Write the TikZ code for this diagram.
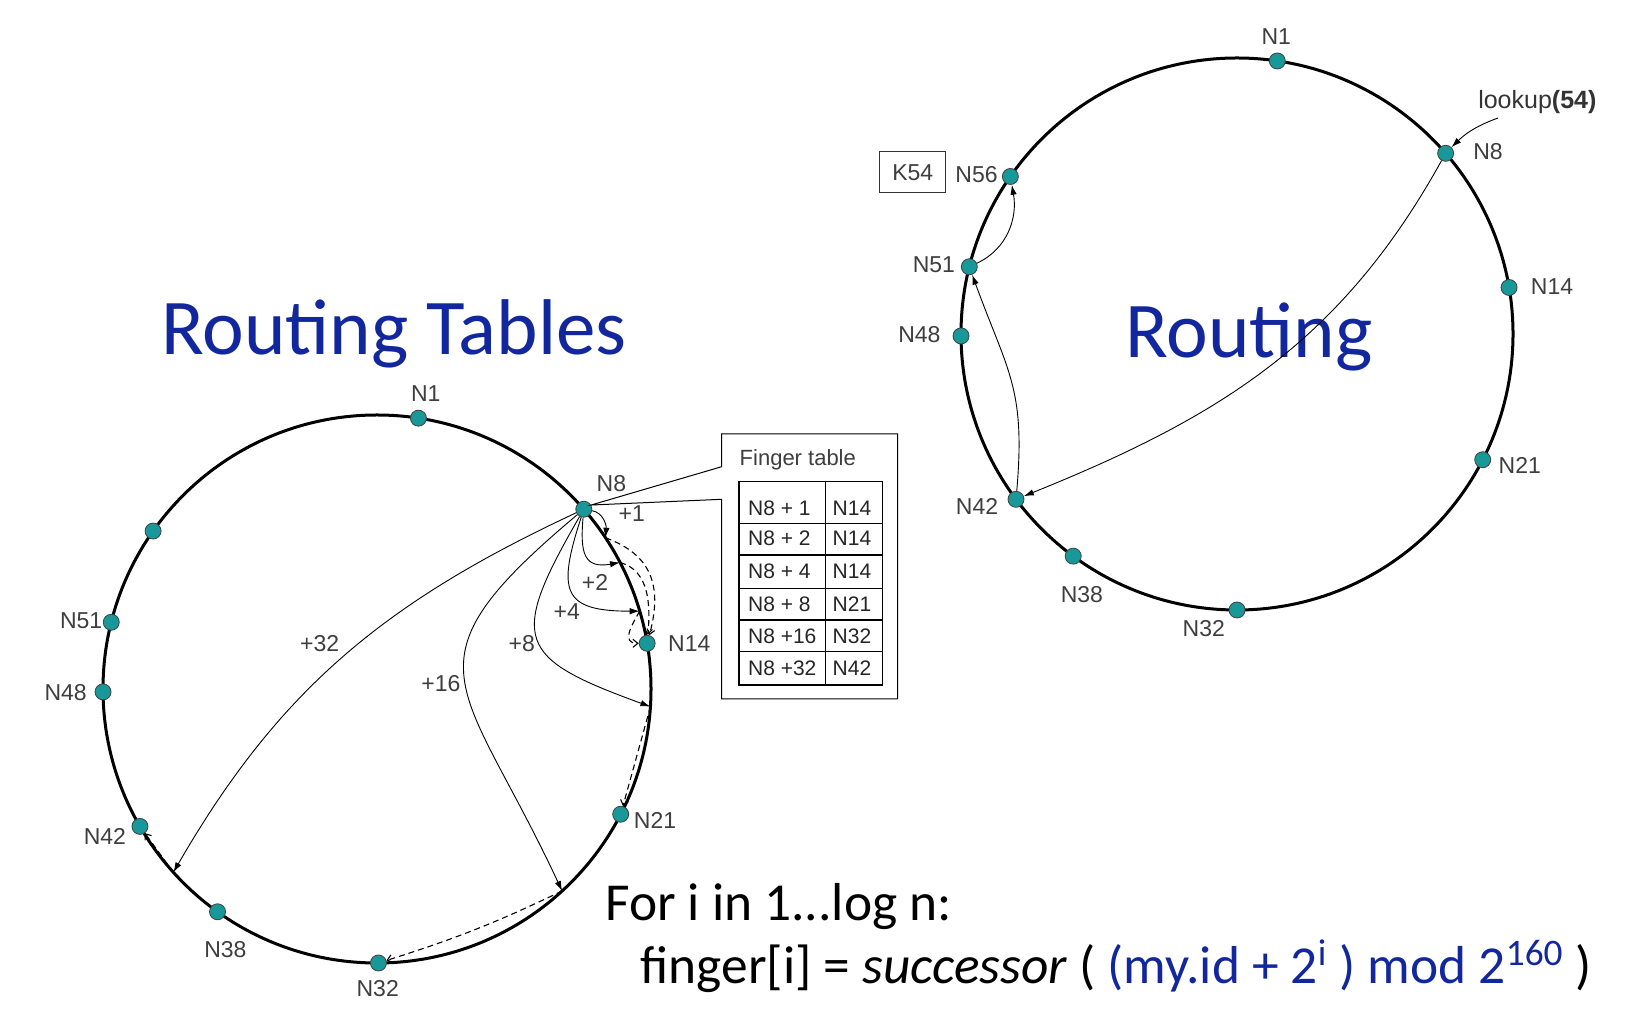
\documentclass[tikz,border=0pt]{standalone}
\usepackage{fontspec}
\setmainfont{Carlito}
\newfontfamily\labfont{Liberation Sans}
\usetikzlibrary{arrows.meta}
\usetikzlibrary{calc}

\definecolor{ringteal}{RGB}{24,152,152}
\definecolor{slideblue}{RGB}{18,38,158}
\definecolor{labgray}{RGB}{62,62,62}

\tikzset{
    peer/.style = {circle, fill=ringteal, draw=black!75, line width=0.4pt, inner sep=0pt, minimum size=8pt},
    lab/.style = {font=\labfont\fontsize{11.5}{12}\selectfont, text=labgray, inner sep=0pt},
    cell/.style = {font=\labfont\fontsize{10.5}{11}\selectfont, text=black!85, inner sep=0pt, anchor=west},
    finger/.style = {line width=0.45pt, -{Latex[length=5pt,width=3.2pt]}},
    hop/.style = {line width=0.55pt, dash pattern=on 3pt off 2pt, -{Straight Barb[length=2.5pt,width=4pt]}},
    ring/.style = {line width=1.5pt},
    heading/.style = {font=\fontsize{39.5}{40}\selectfont, text=slideblue, anchor=base, inner sep=0pt}
}

\begin{document}
\begin{tikzpicture}[x=0.5pt, y=0.5pt]
            \useasboundingbox (0,0) rectangle (1632,1028);
            \fill[white] (0,0) rectangle (1632,1028);

            \node[heading] (ttab) at (394,673) {Routing Tables};
            \node[heading] (trout) at (1249,670) {Routing};

            % left ring
            \coordinate (lc) at (377,339);
            \draw[ring] (lc) circle (274);
            \foreach \id/\ang in {1/81.3, 8/41, 14/9.6, 21/-27.2, 32/-89.7, 38/-125.6, 42/-149.9, 48/180.6, 51/165.9, 56/144.8}
                \node[peer] (l\id) at ($(lc)+(\ang:274)$) {};
            \node[lab] (ll1) at (425.7,634) {N1};
            \node[lab] (ll8) at (611.4,544.7) {N8};
            \node[lab] (ll14) at (689.3,384.7) {N14};
            \node[lab] (ll21) at (655,208) {N21};
            \node[lab] (ll32) at (377.7,39.7) {N32};
            \node[lab] (ll38) at (225.4,78) {N38};
            \node[lab] (ll42) at (104.9,191.3) {N42};
            \node[lab] (ll48) at (65.6,335.9) {N48};
            \node[lab] (ll51) at (81.2,407.7) {N51};

            \foreach \k/\ang in {1/33.5, 2/27.5, 4/16.5, 8/-3.7, 16/-47.5, 32/-138}
                \coordinate (t\k) at ($(lc)+(\ang:274)$);

            \draw[finger] (l8) to[out=-10,in=85] (t1);
            \draw[finger] (l8) to[out=-95,in=190,looseness=1.6] (t2);
            \draw[finger] (l8) to[out=-108,in=180,looseness=1.8] (t4);
            \draw[finger] (l8) to[out=-120,in=160,looseness=1.8] (t8);
            \draw[finger] (l8) to[out=-140,in=115,looseness=1.6] (t16);
            \draw[finger] (l8) to[out=-155,in=60] (t32);

            \node[lab] (p1) at (631.7,514.7) {+1};
            \node[lab] (p2) at (595,445.3) {+2};
            \node[lab] (p4) at (566.7,416.3) {+4};
            \node[lab] (p8) at (521.8,384.7) {+8};
            \node[lab] (p16) at (441,344.7) {+16};
            \node[lab] (p32) at (319.6,384.7) {+32};

            \draw[hop] (t1) to[out=-20,in=75,looseness=1.2] (l14);
            \draw[hop] (t2) to[out=-15,in=85] (l14);
            \draw[hop] (t4) to[out=-120,in=180,looseness=1.4] (l14);
            \draw[hop] (t8) -- (l21);
            \draw[hop] (t16) to[bend left=4] (l32);
            \draw[hop] (t32) -- (l42);

            % finger table callout
            \draw[line width=0.5pt] (721.7,561.3) -- (l8.30) -- (721.7,528.7) -- (721.7,329)
                -- (897.7,329) -- (897.7,594) -- (721.7,594) -- cycle;
            \node[cell, font=\labfont\fontsize{11}{12}\selectfont, text=labgray] (ftitle) at (739.3,568) {Finger table};
            \draw[line width=0.6pt] (739,546.3) rectangle (882.3,343);
            \draw[line width=0.6pt] (825.7,546.3) -- (825.7,343);
            \foreach \y in {504.7, 473, 439.7, 408, 376.3}
                \draw[line width=0.6pt] (739,\y) -- (882.3,\y);
            \foreach \n/\y/\a/\b in {1/519.7/N8 + 1/N14, 2/489.7/N8 + 2/N14, 3/456.3/N8 + 4/N14,
                                     4/423.7/N8 + 8/N21, 5/392/N8 +16/N32, 6/359.7/N8 +32/N42} {
                \node[cell] (fa\n) at (747.7,\y) {\a};
                \node[cell] (fb\n) at (832.3,\y) {\b};
            }

            % right ring
            \coordinate (rc) at (1237,694);
            \draw[ring] (rc) circle (276);
            \foreach \id/\ang in {1/81.6, 8/40.9, 14/9.7, 21/-27.1, 32/-90, 38/-126.4, 42/-143.2, 48/180.4, 51/165.9, 56/145.2}
                \node[peer] (r\id) at ($(rc)+(\ang:276)$) {};
            \node[lab] (rl1) at (1276.2,991.3) {N1};
            \node[lab] (rl8) at (1488,876.3) {N8};
            \node[lab] (rl14) at (1552,741.3) {N14};
            \node[lab] (rl21) at (1519.8,563) {N21};
            \node[lab] (rl32) at (1203.8,399.7) {N32};
            \node[lab] (rl38) at (1081.9,433) {N38};
            \node[lab] (rl42) at (977,522) {N42};
            \node[lab] (rl48) at (919.4,693) {N48};
            \node[lab] (rl51) at (933.9,763) {N51};
            \node[lab] (rl56) at (976.5,853) {N56};
            \node[lab, draw=black!80, line width=0.7pt, minimum width=33pt, minimum height=20.5pt] (k54) at (912.7,855.7) {K54};
            \node[lab, font=\labfont\fontsize{12.5}{13}\selectfont, text=black!80] (look) at (1537.3,926.3) {lookup\textbf{(54)}};

            \coordinate (lk) at (1498,910);
            \draw[finger] (lk) to[bend right=12] (r8);
            \draw[finger] (r8) to[out=-119,in=22] (r42);
            \draw[finger] (r42) to[out=85,in=-70,looseness=1.2] (r51);
            \draw[finger] (r51) to[out=25,in=-80] (r56);

            \node[anchor=base west, inner sep=0pt, font=\fontsize{26.7}{30}\selectfont] (forl) at (604.8,108) {For i in 1...log n:};
            \node[anchor=base west, inner sep=0pt, font=\fontsize{26.7}{30}\selectfont] (fing) at (640,44.7)
                {finger[i] = \textit{successor} ( {\color{slideblue}(my.id + 2\textsuperscript{i} ) mod 2\textsuperscript{160}} )};

        \end{tikzpicture}
\end{document}
